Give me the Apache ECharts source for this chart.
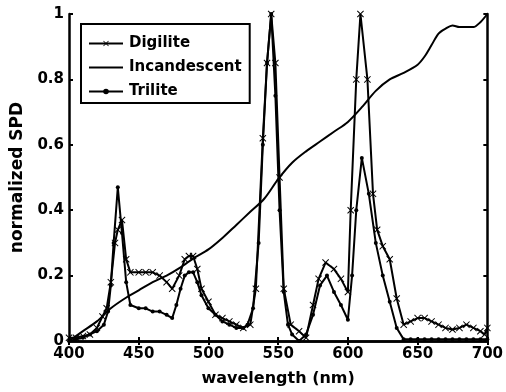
<!DOCTYPE html>
<html>
<head>
<meta charset="utf-8">
<script src="https://cdn.jsdelivr.net/npm/echarts@6/dist/echarts.min.js"></script>
<style>
  html, body { margin: 0; padding: 0; background: #fff; }
  #chart { width: 506px; height: 392px; }
</style>
</head>
<body>
<div id="chart"></div>
<script>
// values (wavelength in nm, normalized SPD)
const xTicks = [400, 450, 500, 550, 600, 650, 700]
const yTicks = [0, 0.2, 0.4, 0.6, 0.8, 1]

const digiliteNm = [
  400, 405, 410, 415, 420, 424, 427, 430, 433, 435, 438, 441, 444, 450, 455, 460, 465, 470, 474,
  479, 483, 486, 489, 492, 495, 500, 505, 510, 515, 520, 525, 530, 534, 539, 542, 545, 548, 551,
  554, 559, 565, 570, 575, 579, 584, 590, 595, 600, 602, 606, 609, 614, 618, 621, 625, 630, 635,
  640, 645, 650, 655, 660, 665, 670, 675, 680, 685, 690, 695, 698, 700,
]
const digilite = [
  0.01, 0.01, 0.015, 0.02, 0.04, 0.075, 0.1, 0.18, 0.3, 0.34, 0.37, 0.25, 0.21, 0.21, 0.21, 0.21,
  0.2, 0.18, 0.16, 0.2, 0.25, 0.26, 0.26, 0.22, 0.16, 0.12, 0.08, 0.07, 0.06, 0.05, 0.04, 0.05,
  0.16, 0.62, 0.85, 1.0, 0.85, 0.5, 0.16, 0.05, 0.03, 0.01, 0.11, 0.19, 0.24, 0.22, 0.19, 0.15,
  0.4, 0.8, 1.0, 0.8, 0.45, 0.34, 0.29, 0.25, 0.13, 0.05, 0.06, 0.07, 0.07, 0.06, 0.05, 0.04,
  0.035, 0.04, 0.05, 0.04, 0.03, 0.02, 0.04,
]

const incandescentNm = [
  400, 410, 420, 430, 440, 450, 460, 470, 480, 490, 500, 510, 520, 530, 540, 550, 560, 570, 580,
  590, 600, 610, 620, 630, 640, 650, 655, 660, 665, 670, 675, 680, 690, 695, 700,
]
const incandescent = [
  0.0, 0.03, 0.06, 0.1, 0.13, 0.155, 0.18, 0.2, 0.225, 0.255, 0.28, 0.315, 0.355, 0.395, 0.435,
  0.495, 0.545, 0.58, 0.61, 0.64, 0.67, 0.715, 0.765, 0.8, 0.82, 0.845, 0.87, 0.905, 0.94, 0.955,
  0.965, 0.96, 0.96, 0.975, 1.0,
]

const triliteNm = [
  400, 405, 410, 415, 420, 425, 428, 430, 432, 435, 438, 441, 444, 450, 455, 460, 465, 470, 474,
  477, 480, 483, 486, 489, 492, 495, 500, 505, 510, 515, 520, 525, 528, 532, 536, 539, 542, 545,
  548, 551, 554, 557, 560, 565, 570, 575, 580, 585, 590, 595, 600, 603, 606, 610, 615, 620, 625,
  630, 635, 640, 645, 650, 655, 660, 665, 670, 675, 680, 685, 690, 695, 700,
]
const trilite = [
  0.0, 0.005, 0.01, 0.02, 0.03, 0.05, 0.09, 0.17, 0.3, 0.47, 0.33, 0.18, 0.11, 0.1, 0.1, 0.09,
  0.09, 0.08, 0.07, 0.11, 0.16, 0.2, 0.21, 0.21, 0.18, 0.14, 0.1, 0.08, 0.06, 0.05, 0.04, 0.04,
  0.05, 0.1, 0.3, 0.6, 0.85, 1.0, 0.75, 0.4, 0.15, 0.05, 0.02, 0.0, 0.02, 0.08, 0.17, 0.2, 0.15,
  0.11, 0.065, 0.2, 0.4, 0.56, 0.45, 0.3, 0.2, 0.12, 0.04, 0.005, 0.005, 0.005, 0.005, 0.005,
  0.005, 0.005, 0.005, 0.005, 0.005, 0.005, 0.005, 0.005,
]

const FONT = 'DejaVu Sans'
const CROSS = 'path://M0,1L1,0L5,4L9,0L10,1L6,5L10,9L9,10L5,6L1,10L0,9L4,5Z'

const zip = (xs, ys) => xs.map((x, i) => [x, ys[i]])

const frameAxis = {
  axisLine: { show: true, lineStyle: { color: '#000', width: 2.5 } },
  axisTick: { show: true, inside: true, length: 4, lineStyle: { color: '#000', width: 2 } },
  splitLine: { show: false },
}

const chart = echarts.init(document.getElementById('chart'), null, { renderer: 'canvas' })

chart.setOption({
  animation: false,
  backgroundColor: '#fff',
  textStyle: { fontFamily: FONT, fontWeight: 'bold', color: '#000' },
  grid: { left: 69, right: 15, top: 14, bottom: 47, containLabel: false },
  legend: {
    orient: 'vertical',
    left: 81,
    top: 24,
    padding: [12, 8, 4, 7],
    itemWidth: 34,
    itemHeight: 7,
    itemGap: 9,
    backgroundColor: '#fff',
    borderColor: '#000',
    borderWidth: 2,
    borderRadius: 0,
    textStyle: { fontFamily: FONT, fontWeight: 'bold', fontSize: 15, color: '#000', padding: [0, 0, 0, 1] },
    data: [
      { name: 'Digilite' },
      { name: 'Incandescent', itemStyle: { opacity: 0 } },
      { name: 'Trilite' },
    ],
  },
  xAxis: [
    {
      type: 'value',
      min: xTicks[0],
      max: xTicks[xTicks.length - 1],
      interval: 50,
      position: 'bottom',
      name: 'wavelength (nm)',
      nameLocation: 'middle',
      nameGap: 30,
      nameTextStyle: { fontFamily: FONT, fontWeight: 'bold', fontSize: 16, color: '#000' },
      axisLabel: { color: '#000', fontFamily: FONT, fontWeight: 'bold', fontSize: 15, margin: 6 },
      ...frameAxis,
    },
    {
      type: 'value',
      min: xTicks[0],
      max: xTicks[xTicks.length - 1],
      interval: 50,
      position: 'top',
      axisLabel: { show: false },
      ...frameAxis,
    },
  ],
  yAxis: [
    {
      type: 'value',
      min: yTicks[0],
      max: yTicks[yTicks.length - 1],
      interval: 0.2,
      position: 'left',
      name: 'normalized SPD',
      nameLocation: 'middle',
      nameGap: 42,
      nameTextStyle: { fontFamily: FONT, fontWeight: 'bold', fontSize: 17, color: '#000' },
      axisLabel: { color: '#000', fontFamily: FONT, fontWeight: 'bold', fontSize: 15, margin: 5 },
      ...frameAxis,
    },
    {
      type: 'value',
      min: yTicks[0],
      max: yTicks[yTicks.length - 1],
      interval: 0.2,
      position: 'right',
      axisLabel: { show: false },
      ...frameAxis,
    },
  ],
  series: [
    {
      name: 'Digilite',
      type: 'line',
      data: zip(digiliteNm, digilite),
      symbol: CROSS,
      symbolSize: 7,
      showSymbol: true,
      lineStyle: { color: '#000', width: 2 },
      itemStyle: { color: '#000' },
    },
    {
      name: 'Incandescent',
      type: 'line',
      data: zip(incandescentNm, incandescent),
      symbol: 'none',
      smooth: 0.3,
      lineStyle: { color: '#000', width: 2 },
      itemStyle: { color: '#000' },
    },
    {
      name: 'Trilite',
      type: 'line',
      data: zip(triliteNm, trilite),
      symbol: 'circle',
      symbolSize: 4,
      showSymbol: true,
      lineStyle: { color: '#000', width: 2 },
      itemStyle: { color: '#000' },
    },
  ],
})
</script>
</body>
</html>
